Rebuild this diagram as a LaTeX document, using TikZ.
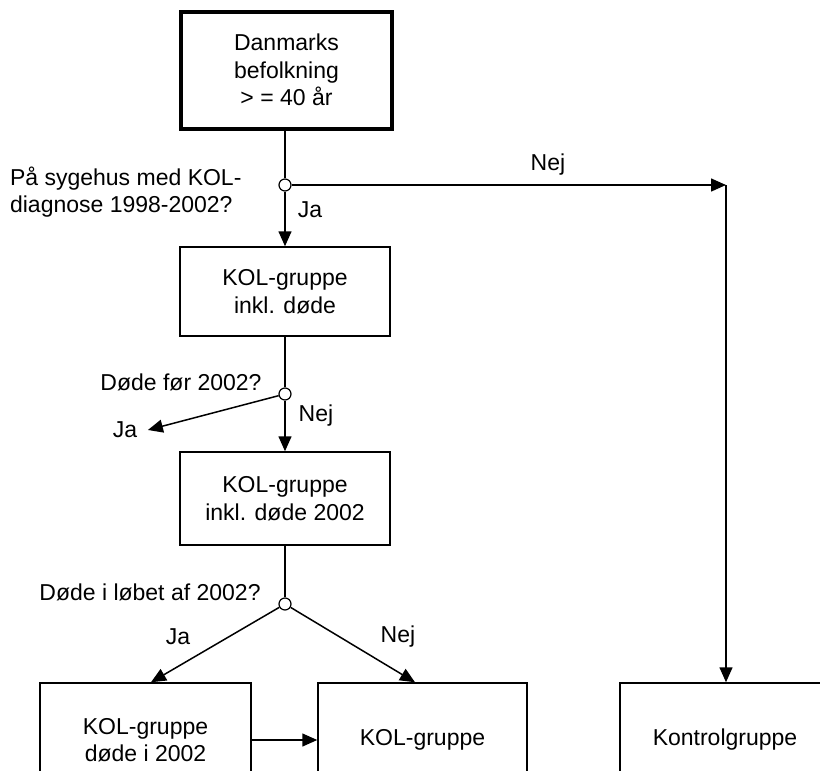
\documentclass[tikz,border=0pt]{standalone}
\usepackage{fontspec}
\setmainfont{Liberation Sans}
\usetikzlibrary{arrows.meta}

\tikzset{
 boks/.style={draw, line width=1.5pt, minimum width=210pt, minimum height=90pt, align=center, inner sep=0pt},
 valg/.style={circle, draw, fill=white, line width=1.2pt, minimum size=12pt, inner sep=0pt},
 pil/.style={-{Triangle[length=15pt,width=13pt]}},
}

\begin{document}
\begin{tikzpicture}[x=1pt,y=-1pt,line width=1.5pt,font=\fontsize{23pt}{27.5pt}\selectfont]
 \useasboundingbox (0,0) rectangle (820,771);
 \clip (0,0) rectangle (820,771);

 % kasser
 \node[boks, line width=4pt, minimum width=211pt, minimum height=117pt] (dk) at (286.5,70) {Danmarks\\befolkning\\> = 40 år};
 \node[boks, minimum height=89pt] (kolinkl) at (285,291.5) {KOL-gruppe\\inkl. døde};
 \node[boks, minimum height=93pt] (kol2002) at (285,498.5) {KOL-gruppe\\inkl. døde 2002};
 \node[boks, minimum width=211pt, minimum height=114pt] (koldoede) at (145.5,740) {KOL-gruppe\\døde i 2002};
 \node[boks, minimum width=209pt, minimum height=114pt] (kol) at (422.5,740) {KOL-gruppe};
 \node[boks, minimum height=114pt] (kontrol) at (725,740) {Kontrolgruppe};

 % valg
 \node[valg] (v1) at (285,185) {};
 \node[valg] (v2) at (285,394) {};
 \node[valg] (v3) at (285,604) {};
 \coordinate (knaek) at (726,185);

 % tekster
 \node[anchor=west, align=left] (q1) at (6,192) {På sygehus med KOL-\\diagnose 1998-2002?};
 \node (q2) at (181,382) {Døde før 2002?};
 \node (q3) at (150,592) {Døde i løbet af 2002?};
 \node (nej1) at (548,165) {Nej};
 \node (ja1) at (310,210) {Ja};
 \node (nej2) at (316,416) {Nej};
 \node[inner sep=10pt] (ja2) at (125,430) {Ja};
 \node (ja3) at (178,637) {Ja};
 \node (nej3) at (398,637) {Nej};

 % pile
 \draw (dk.south -| v1) -- (v1);
 \draw[pil] (v1) -- (kolinkl);
 \draw[pil] (v1) -- (knaek);
 \draw[pil] (knaek) -- (kontrol.north -| knaek);

 \draw (kolinkl) -- (v2);
 \draw[pil] (v2) -- (kol2002);
 \draw[pil] (v2) -- (ja2.east);

 \draw (kol2002) -- (v3);
 \draw[pil] (v3) -- ([xshift=5.5pt]koldoede.north);
 \draw[pil] (v3) -- ([xshift=-7.5pt]kol.north);
 \draw[pil] (koldoede) -- (kol);
\end{tikzpicture}
\end{document}
